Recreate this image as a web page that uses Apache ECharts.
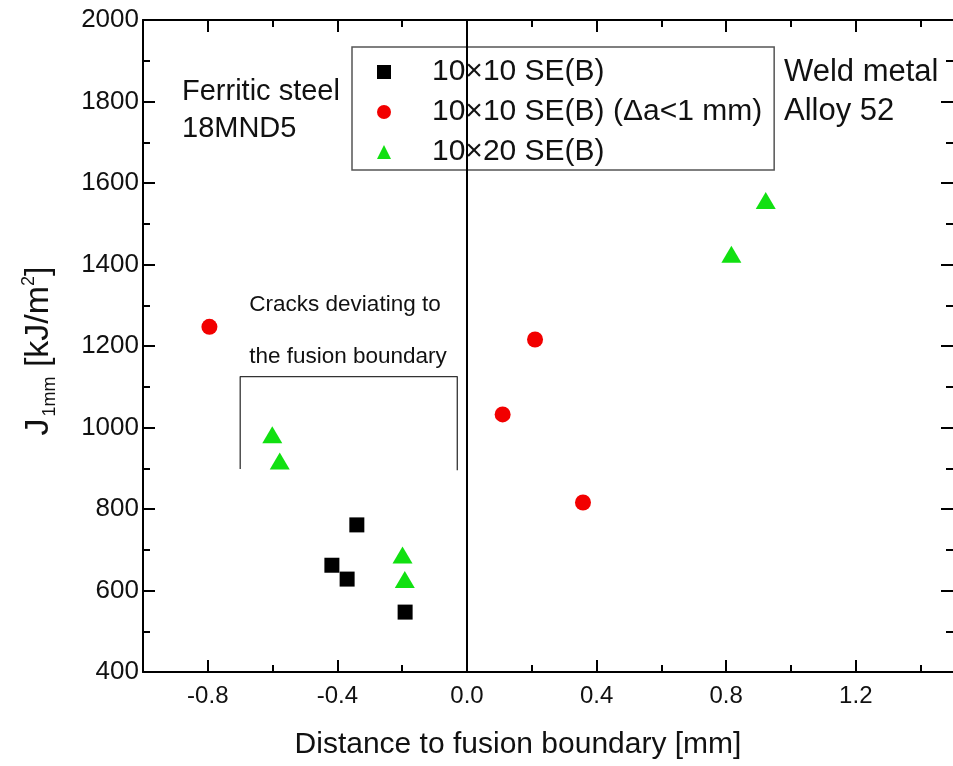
<!DOCTYPE html>
<html>
<head>
<meta charset="utf-8">
<script src="https://cdn.jsdelivr.net/npm/echarts@6/dist/echarts.min.js"></script>
<style>
  html, body { margin: 0; padding: 0; background: #fff; overflow: hidden; }
  #chart { width: 953px; height: 766px; }
</style>
</head>
<body>
<div id="chart"></div>
<script>
// Fracture toughness J(1mm) vs. distance of the crack tip to the fusion boundary
const seriesNames = ['10\u00d710 SE(B)', '10\u00d710 SE(B) (\u0394a<1 mm)', '10\u00d720 SE(B)'];

// 10x10 SE(B) specimens [distance mm, J kJ/m2]
const se10x10 = [[-0.417, 662], [-0.370, 628], [-0.340, 761], [-0.191, 547]];
// 10x10 SE(B) specimens with crack extension below 1 mm
const se10x10Short = [[-0.795, 1247], [0.110, 1032], [0.210, 1216], [0.358, 816]];
// 10x20 SE(B) specimens
const se10x20 = [[-0.601, 982], [-0.578, 918], [-0.199, 687], [-0.192, 627], [0.816, 1425], [0.922, 1557]];

// Bracket marking cracks that deviated to the fusion boundary
const bracket = [[-0.70, 898], [-0.70, 1125], [-0.03, 1125], [-0.03, 895]];

const xMajorTicks = [-0.8, -0.4, 0.4, 0.8, 1.2];
const xMinorTicks = [-0.6, -0.2, 0.2, 0.6, 1.0, 1.4];
const xTickLabels = [-0.8, -0.4, 0.0, 0.4, 0.8, 1.2];

const FONT = 'Liberation Sans, Arial, sans-serif';
const ink = '#111';

const chart = echarts.init(document.getElementById('chart'), null, { renderer: 'canvas' });

function xAxisDef(pos, ticks, len, withLine, withLabels) {
  return {
    type: 'value', min: -1.0, max: 1.5, interval: 0.2, position: pos, gridIndex: 0,
    axisLine: { show: withLine, onZero: false, lineStyle: { color: '#000', width: 2 } },
    axisTick: { show: true, inside: true, length: len, customValues: ticks, lineStyle: { color: '#000', width: 2 } },
    axisLabel: withLabels ? {
      show: true, customValues: xTickLabels, margin: 12,
      fontFamily: FONT, fontSize: 24, color: ink,
      formatter: v => v.toFixed(1)
    } : { show: false },
    splitLine: { show: false },
    name: withLabels ? 'Distance to fusion boundary [mm]' : '',
    nameLocation: 'middle', nameGap: 58,
    nameTextStyle: { fontFamily: FONT, fontSize: 30, color: ink, padding: [0, 60, 0, 0] }
  };
}

function yAxisDef(pos, withLabels) {
  return {
    type: 'value', min: 400, max: 2000, interval: 200, position: pos, gridIndex: 0,
    axisLine: { show: withLabels, onZero: false, lineStyle: { color: '#000', width: 2 } },
    axisTick: { show: true, inside: true, length: 12, lineStyle: { color: '#000', width: 2 } },
    minorTick: { show: true, splitNumber: 2, length: 7, lineStyle: { color: '#000', width: 2 } },
    axisLabel: withLabels ? {
      show: true, margin: 4, fontFamily: FONT, fontSize: 26, color: ink,
      formatter: v => String(v)
    } : { show: false },
    splitLine: { show: false },
    name: withLabels ? '{j|J}{sub|1mm}{u| [kJ/m}{sup|2}{u|]}' : '',
    nameLocation: 'middle', nameRotate: 90, nameGap: 84,
    nameTextStyle: {
      fontFamily: FONT, color: ink, padding: [0, 10, 0, 0],
      rich: {
        j: { fontFamily: FONT, fontSize: 34, color: ink, padding: [0, 2, 0, 0] },
        u: { fontFamily: FONT, fontSize: 34, color: ink },
        sub: { fontFamily: FONT, fontSize: 18, color: ink, padding: [22, 0, 0, 0] },
        sup: { fontFamily: FONT, fontSize: 18, color: ink, padding: [0, 0, 20, 0] }
      }
    }
  };
}

const option = {
  backgroundColor: '#fff',
  animation: false,
  grid: { left: 143, top: 20, width: 814, height: 652, containLabel: false },
  legend: {
    orient: 'vertical', left: 352, top: 47,
    data: seriesNames,
    backgroundColor: '#fff',
    borderColor: '#555', borderWidth: 1.5, borderRadius: 0,
    padding: [10, 12, 3, 25],
    itemWidth: 14, itemHeight: 14, itemGap: 10,
    itemStyle: { opacity: 1 },
    textStyle: { fontFamily: FONT, fontSize: 30, color: ink, padding: [0, 0, 0, 36], lineHeight: 30 }
  },
  xAxis: [
    xAxisDef('bottom', xMajorTicks, 12, true, true),
    xAxisDef('bottom', xMinorTicks, 7, false, false),
    xAxisDef('top', xMajorTicks, 12, true, false),
    xAxisDef('top', xMinorTicks, 7, false, false)
  ],
  yAxis: [yAxisDef('left', true), yAxisDef('right', false)],
  series: [
    {
      name: seriesNames[0], type: 'scatter', data: se10x10,
      symbol: 'rect', symbolSize: 15, itemStyle: { color: '#000', opacity: 1 },
      markLine: {
        silent: true, symbol: 'none', label: { show: false },
        lineStyle: { color: '#000', width: 2, type: 'solid' },
        data: [{ xAxis: 0 }]
      },
      z: 5
    },
    {
      name: seriesNames[1], type: 'scatter', data: se10x10Short,
      symbol: 'circle', symbolSize: 16, itemStyle: { color: '#f20000', opacity: 1 }, z: 5
    },
    {
      name: seriesNames[2], type: 'scatter', data: se10x20,
      symbol: 'triangle', symbolSize: [20, 17], itemStyle: { color: '#11e011', opacity: 1 }, z: 5
    },
    {
      name: 'bracket', type: 'line', data: bracket,
      symbol: 'none', silent: true,
      lineStyle: { color: '#333', width: 1.3 }, z: 3
    }
  ],
  graphic: [
    { type: 'text', left: 182, top: 73, style: { text: 'Ferritic steel\n18MND5', font: '29px ' + FONT, fill: ink, lineHeight: 37 } },
    { type: 'text', left: 784, top: 53, style: { text: 'Weld metal\nAlloy 52', font: '31px ' + FONT, fill: ink, lineHeight: 39 } },
    { type: 'text', x: 345, y: 305, style: { text: 'Cracks deviating to', font: '22.5px ' + FONT, fill: ink, align: 'center', verticalAlign: 'middle' } },
    { type: 'text', x: 348, y: 357, style: { text: 'the fusion boundary', font: '22.5px ' + FONT, fill: ink, align: 'center', verticalAlign: 'middle' } }
  ]
};

chart.setOption(option);
</script>
</body>
</html>
